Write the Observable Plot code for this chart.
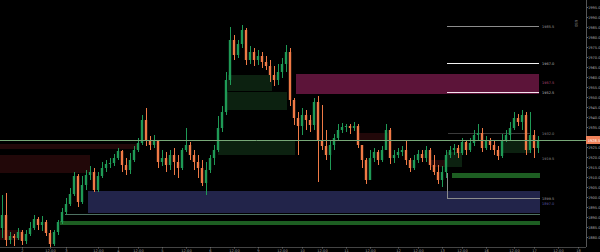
<!DOCTYPE html>
<html>
<head>
<meta charset="utf-8">
<script src="https://cdn.jsdelivr.net/npm/d3@7"></script>
<script src="https://cdn.jsdelivr.net/npm/@observablehq/plot@0.6"></script>
<style>
  html, body { margin: 0; padding: 0; background: #000; overflow: hidden; }
  svg { display: block; }
</style>
</head>
<body>
<div id="chart"></div>
<script>
// ---- Candle data (prices) ----
const firstOpen = 1884.5;
const closes = [1891,1878.5,1880.5,1879.5,1882.5,1878,1881.5,1884.5,1889,1886,1887.5,1882,1876.5,1882.5,1887.5,1892.5,1896.5,1901.5,1910.5,1897.5,
1906,1911,1912.5,1903.5,1910.5,1914.5,1916.5,1917,1919.5,1923,1916,1913.5,1918.5,1923.5,1927,1938.5,1928,1926,1928.5,1917.5,
1919.5,1916,1921,1917.5,1914.5,1923.5,1926,1921,1917.5,1914.5,1907,1913.5,1919.5,1923.5,1934.5,1942.5,1958.5,1978.5,1971,1976.5,
1983.5,1968.5,1972.5,1968.5,1970.5,1967.5,1965.5,1961,1958.5,1962.5,1966.5,1972.5,1948.5,1939.5,1935.5,1941,1938.5,1936,1947.5,1928.5,
1925.5,1921,1926,1929.5,1933.5,1935,1935.5,1934.5,1935.5,1926,1918.5,1908.5,1919.5,1922.5,1918.5,1923.5,1933.5,1919.5,1921,1922.5,
1923.5,1918.5,1914.5,1918.5,1921.5,1919.5,1923.5,1916,1912.5,1908.5,1912.5,1921,1923.5,1924.5,1922,1927.5,1923.5,1927,1931,1932,
1924.5,1928,1926,1923.5,1920.5,1928.5,1931,1934.5,1939.5,1937.5,1941,1923.5,1931,1924.5,1928];
const highs = [1901,1902,1882.5,1881.5,1884.5,1883.5,1883.5,1887.5,1891,1890,1890.5,1888.5,1883.5,1883.5,1888.5,1894.5,1899.5,1904.5,1912.5,1911.5,
1910.5,1913.5,1915.5,1914.5,1912.5,1917.5,1918.5,1919.5,1921.5,1924.5,1923.5,1919.5,1922,1925.5,1929.5,1941,1944.5,1930.5,1931,1928.5,
1923.5,1922.5,1923.5,1924.5,1921,1924.5,1934.5,1927.5,1923.5,1921,1918.5,1917.5,1921,1926,1940.5,1945.5,1962.5,1985,1981,1978.5,
1986,1984.5,1975.5,1974.5,1973.5,1972.5,1970.5,1968.5,1965.5,1966.5,1969.5,1976,1974.5,1949.5,1942.5,1944.5,1943.5,1941,1949.5,1950.5,
1946,1933.5,1928.5,1931.5,1936.5,1937,1936.5,1936.5,1937.5,1936.5,1926,1919.5,1923.5,1924.5,1923.5,1925.5,1936.5,1934.5,1923.5,1924.5,
1925.5,1928.5,1919.5,1921,1923.5,1923.5,1925.5,1924.5,1921,1916,1915.5,1923.5,1925.5,1926.5,1926,1929.5,1928.5,1929.5,1933.5,1936.5,
1934.5,1930.5,1929.5,1928.5,1925.5,1931.5,1933.5,1937.5,1942.5,1941.5,1943.5,1942.5,1942.5,1933.5,1930.5];
const lows = [1879.5,1875.5,1876.5,1875.5,1878.5,1876,1876.5,1880.5,1883.5,1883.5,1883,1880.5,1875,1875.5,1881,1886.5,1891,1895.5,1900.5,1895,
1896.5,1903.5,1908.5,1902.5,1902.5,1909.5,1912.5,1914.5,1915.5,1918.5,1912.5,1911,1911.5,1917.5,1922.5,1926,1925.5,1923.5,1924.5,1914.5,
1915.5,1912.5,1913.5,1911,1909.5,1913.5,1922.5,1918.5,1913.5,1909.5,1905.5,1901,1912,1916,1922.5,1932.5,1941,1956,1968.5,1969.5,
1974.5,1966,1966.5,1965.5,1966,1964.5,1963.5,1957.5,1955.5,1956,1959.5,1962.5,1945.5,1936,1921,1931,1933.5,1932.5,1933.5,1907.5,
1923.5,1918.5,1913.5,1923.5,1928.5,1932,1932.5,1931.5,1933,1924.5,1914.5,1906.5,1911,1917.5,1916,1917.5,1923.5,1916.5,1917,1919.5,
1920.5,1916,1912.5,1913.5,1917,1917.5,1917.5,1913.5,1911,1906.5,1905,1909.5,1919.5,1921,1919.5,1921,1921,1922.5,1925.5,1928.5,
1922.5,1923.5,1923.5,1921,1918.5,1919.5,1927.5,1928.5,1933.5,1935.5,1933.5,1921,1922,1919.5,1922];

// ---- Zones: [x1 index, x2 index, y1 price, y2 price] ----
const supplyZones = [[-0.5,33.75,1924,1926.5],[-0.5,22,1912,1921],[-0.5,5,1878.5,1883.5],[89,96.5,1928.5,1932],[107,111.25,1915,1918.5]];
const demandZones = [[56.5,67.5,1953,1961],[56,71.25,1943.5,1952.5],[54,73.25,1921,1928.5],[125.25,132,1922,1928.5],[111.25,115,1915,1922.5]];
const navyZone = [[21.5,134.5,1892,1903]];
const magentaZone = [[73.5,134.25,1951.5,1961.5]];
const greenBars = [[14.5,134.5,1886,1888],[112.5,134.5,1909.5,1912]];

// levels: [x1, x2, price]
const whiteLevels = [[111.25,134.25,1967],[111.25,134.25,1952.5]];
const grayLevels = [[111.25,134.25,1985.5],[111.25,134.5,1899.5]];
const dimLevels = [[111.5,132,1932],[15.75,134.5,1891.5]];
const currentPrice = 1928.5;

// right-hand small labels
const sideLabelPrices = [1985.5,1967,1957.5,1952.5,1932,1919.5,1899.5,1897];
const sideLabelTexts = ["1985.5","1967.0","1957.5","1952.5","1932.0","1919.5","1899.5","1897.0"];

// axes
const yTicks = [1880,1885,1890,1895,1900,1905,1910,1915,1920,1925,1935,1940,1945,1950,1955,1960,1965,1970,1975,1980,1985,1990,1995];
const xTickIdx = [5,12,16,24,29,34,40,46,52,58,64,70,75,80,86,92,99,104,110,115,121,128,133,139,144];
const xTickLabels = ["2","12:00","3","12:00","4","12:00","5","12:00","6","12:00","9","12:00","10","12:00","11","12:00","12","12:00","13","12:00","16","12:00","17","12:00","18"];

// ---- build ----
const candles = closes.map((c, i) => ({i, o: i === 0 ? firstOpen : closes[i-1], c, h: highs[i], l: lows[i]}));
const toRect = a => a.map(([x1,x2,y1,y2]) => ({x1,x2,y1,y2}));
const toLevel = a => a.map(([x1,x2,y]) => ({x1,x2,y}));
const UP = "#1f9a56", DOWN = "#f07a46";
const col = d => d.c >= d.o ? UP : DOWN;
const labelMap = new Map(xTickIdx.map((d,k) => [d, xTickLabels[k]]));
const side = sideLabelPrices.map((y,k) => ({y, t: sideLabelTexts[k], k}));
const sideColors = ["#9a9a9a","#bbbbbb","#b04a78","#bbbbbb","#8a8a8a","#8a8a8a","#9a9a9a","#5a5aa8"];

const chart = Plot.plot({
  width: 600, height: 252,
  marginLeft: 0, marginRight: 14, marginTop: 0, marginBottom: 5,
  style: {background: "#000", color: "#a8a8a8", fontFamily: "DejaVu Sans"},
  x: {domain: [-0.5, 146], axis: null},
  y: {domain: [1875, 1998.5], axis: null},
  marks: [
    Plot.rect(toRect(supplyZones), {x1:"x1", x2:"x2", y1:"y1", y2:"y2", fill:"#220809"}),
    Plot.rect(toRect(demandZones), {x1:"x1", x2:"x2", y1:"y1", y2:"y2", fill:"#0c2110"}),
    Plot.rect(toRect(navyZone), {x1:"x1", x2:"x2", y1:"y1", y2:"y2", fill:"#22244a"}),
    Plot.rect(toRect(magentaZone), {x1:"x1", x2:"x2", y1:"y1", y2:"y2", fill:"#5c1439"}),
    Plot.rect(toRect(greenBars), {x1:"x1", x2:"x2", y1:"y1", y2:"y2", fill:"#1d5e22"}),
    Plot.ruleY(toLevel(dimLevels), {x1:"x1", x2:"x2", y:"y", stroke: (d,k) => k === 0 ? "#3a3a3a" : "#4e7262", strokeWidth: 1}),
    Plot.ruleX(candles, {x:"i", y1:"l", y2:"h", stroke: col, strokeWidth: 1}),
    Plot.rect(candles, {x1: d => d.i - 0.3, x2: d => d.i + 0.3, y1:"o", y2:"c", fill: col}),
    Plot.ruleY(toLevel(grayLevels), {x1:"x1", x2:"x2", y:"y", stroke:"#8c8c8c", strokeWidth: 1}),
    Plot.ruleX([grayLevels[1]], {x: d => d[0], y1: d => d[2], y2: greenBars[1][3], stroke:"#8c8c8c", strokeWidth: 1}),
    Plot.ruleY(toLevel(whiteLevels), {x1:"x1", x2:"x2", y:"y", stroke: (d,k) => k === 0 ? "#f2f2f2" : "#f4e4ee", strokeWidth: 1.2}),
    Plot.ruleY([currentPrice], {x1: -0.5, x2: 146, stroke:"#78a878", strokeWidth: 1}),
    Plot.text(side, {x: 134.9, y:"y", text:"t", textAnchor:"start", fontSize: 3.5, fill: d => sideColors[d.k]}),
    // axis lines
    Plot.ruleX([146], {stroke:"#555", strokeWidth: 1}),
    Plot.ruleY([1875], {stroke:"#444", strokeWidth: 1}),
    Plot.axisY({anchor:"right", ticks: yTicks, tickSize: 1, tickPadding: 0.5, tickFormat: d => d.toFixed(1), fontSize: 3.6, fill:"#b0b0b0", stroke:"#666"}),
    Plot.axisX({anchor:"bottom", ticks: xTickIdx, tickSize: 1.5, tickPadding: 0.5, tickFormat: d => labelMap.get(d), fontSize: 3.6, fill:"#9a9a9a", stroke:"#666"}),
    // price tag
    Plot.rect([currentPrice], {x1: 146, x2: 149.6, y1: d => d - 2, y2: d => d + 2, fill:"#f0825a"}),
    Plot.text([currentPrice], {x: 146.3, y: d => d, text: d => d.toFixed(1), textAnchor:"start", fontSize: 3.6, fill:"#fff"}),
    Plot.text(["USD"], {x: 143.5, y: 1987, text: d => d, rotate: 90, fontSize: 3.6, fill:"#8a8a8a"})
  ]
});
document.getElementById("chart").appendChild(chart);
</script>
</body>
</html>
